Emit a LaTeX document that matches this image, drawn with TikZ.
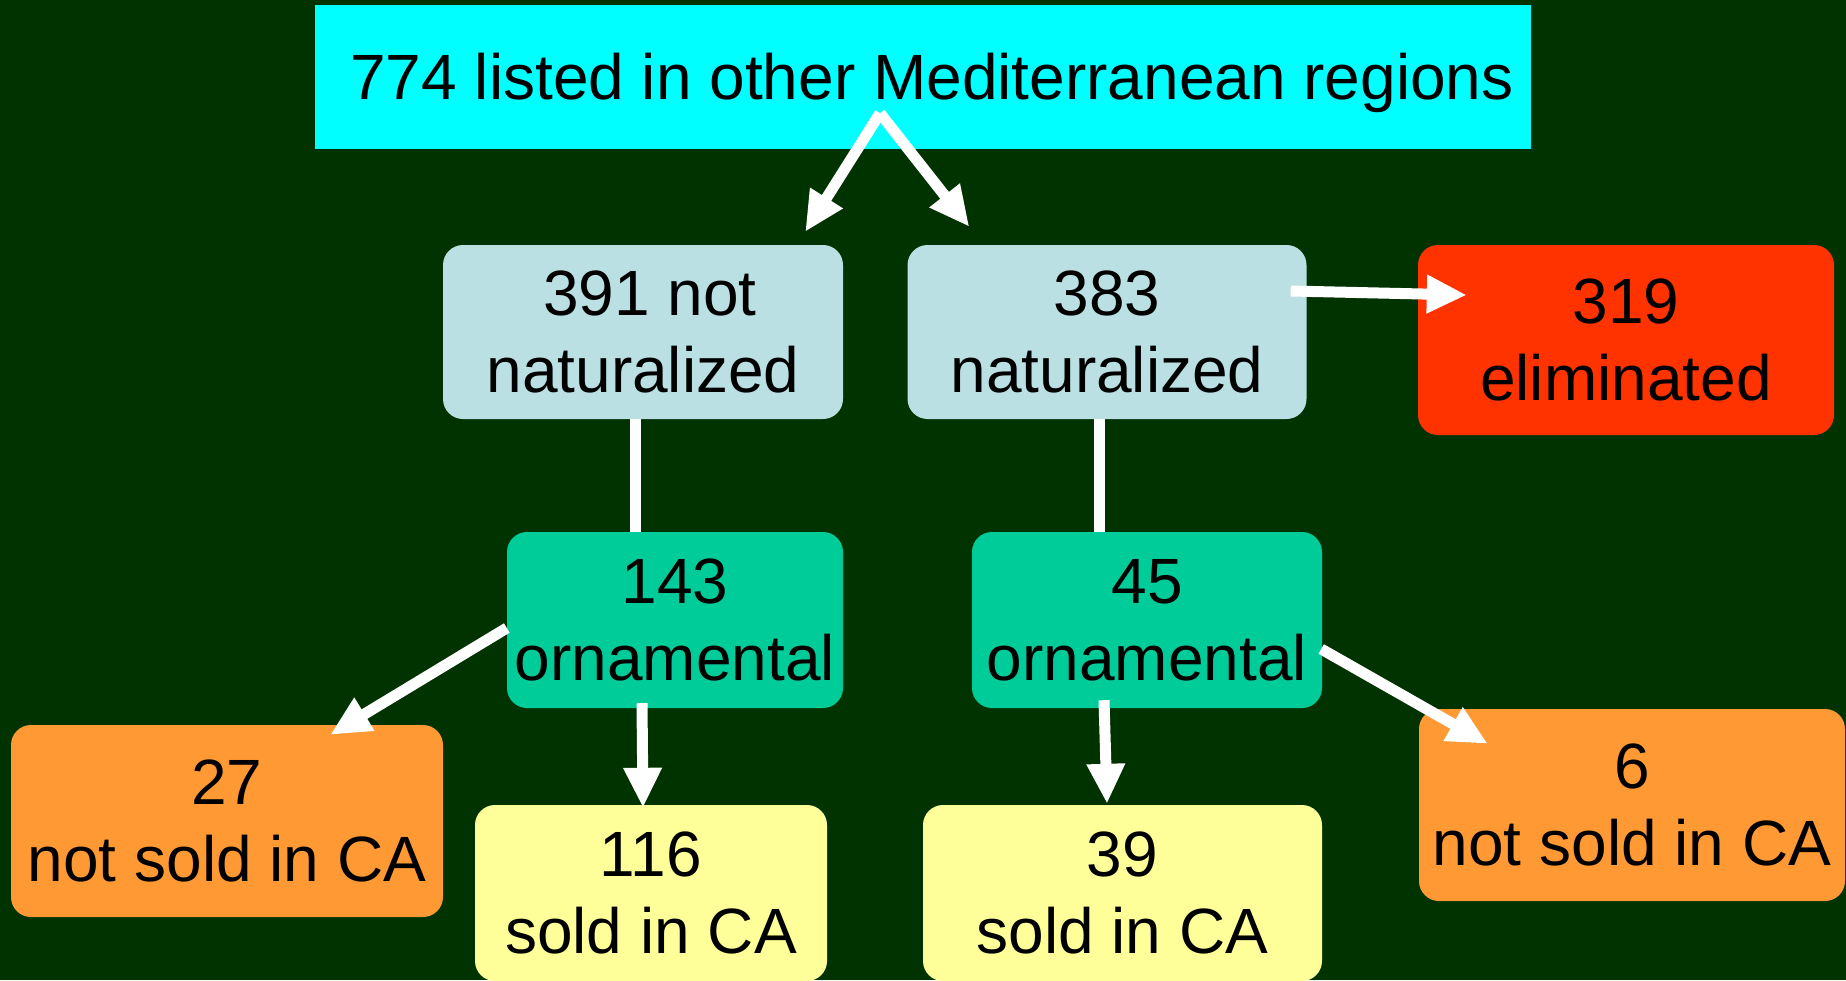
\documentclass[tikz,border=0pt]{standalone}
\usepackage{fontspec}
\setmainfont{Liberation Sans}
\usetikzlibrary{arrows.meta,calc}
\definecolor{bg}{RGB}{0,51,0}
\definecolor{listed}{RGB}{0,255,255}
\definecolor{natur}{RGB}{187,224,227}
\definecolor{elim}{RGB}{255,51,0}
\definecolor{orna}{RGB}{0,204,153}
\definecolor{notsold}{RGB}{255,153,51}
\definecolor{sold}{RGB}{255,255,153}
\newcommand{\drawarrow}{\draw[line width=11pt,white,-{Triangle[length=40pt,width=36pt]}]}
\newcommand{\drawstem}{\draw[line width=11pt,white]}
\begin{document}
\begin{tikzpicture}[x=1pt,y=-1pt,
  cell/.style={rounded corners=20pt,align=center,inner sep=0pt,font=\fontsize{64}{77}\selectfont}]
\useasboundingbox (0,0) rectangle (1846,980);
\clip (0,0) rectangle (1846,980);
\fill[bg] (0,0) rectangle (1846,980);
% boxes
\node[cell,sharp corners,fill=listed,minimum width=1216pt,minimum height=144pt] (n774) at (923,77) {\hspace*{18pt}\raisebox{-6pt}[\height][\depth]{774 listed in other Mediterranean regions}};
\node[cell,fill=natur,minimum width=400pt,minimum height=174pt] (n391) at (643,332) {\hspace*{14pt}391 not\\naturalized};
\node[cell,fill=natur,minimum width=399pt,minimum height=174pt] (n383) at (1107,332) {383\\naturalized};
\node[cell,fill=elim,minimum width=416pt,minimum height=190pt] (n319) at (1626,340) {319\\eliminated};
\node[cell,fill=orna,minimum width=336pt,minimum height=176pt] (n143) at (675,620) {143\\ornamental};
\node[cell,fill=orna,minimum width=350pt,minimum height=176pt] (n45) at (1147,620) {45\\ornamental};
\node[cell,fill=notsold,minimum width=432pt,minimum height=192pt] (n27) at (227,821) {27\\not sold in CA};
\node[cell,fill=sold,minimum width=352pt,minimum height=176pt] (n116) at (651,893) {116\\sold in CA};
\node[cell,fill=sold,minimum width=399pt,minimum height=176pt] (n39) at (1122.5,893) {39\\sold in CA};
\node[cell,fill=notsold,minimum width=426pt,minimum height=192pt] (n6) at (1632,805) {6\\not sold in CA};
% connectors
\coordinate (fork) at ($(n774.south)+(-43,-36)$);
\drawarrow (fork)--($(n391.north east)+(-38,-13)$);
\drawarrow (fork)--($(n383.north west)+(62,-18)$);
\drawarrow ($(n383.east)+(-16,-41)$)--($(n319.west)+(49,-45)$);
\drawstem ($(n391.south)+(-8,0)$)--($(n143.north)+(-40,0)$);
\drawstem ($(n383.south)+(-8,0)$)--($(n45.north)+(-48,0)$);
\drawarrow ($(n143.west)+(0,8)$)--($(n27.north east)+(-113,10)$);
\drawarrow ($(n143.south)+(-33,-5)$)--($(n116.north)+(-8,3)$);
\drawarrow ($(n45.east)+(-1,29)$)--($(n6.north west)+(69,35)$);
\drawarrow ($(n45.south)+(-43,-8)$)--($(n39.north)+(-15.5,-1)$);
\end{tikzpicture}
\end{document}
